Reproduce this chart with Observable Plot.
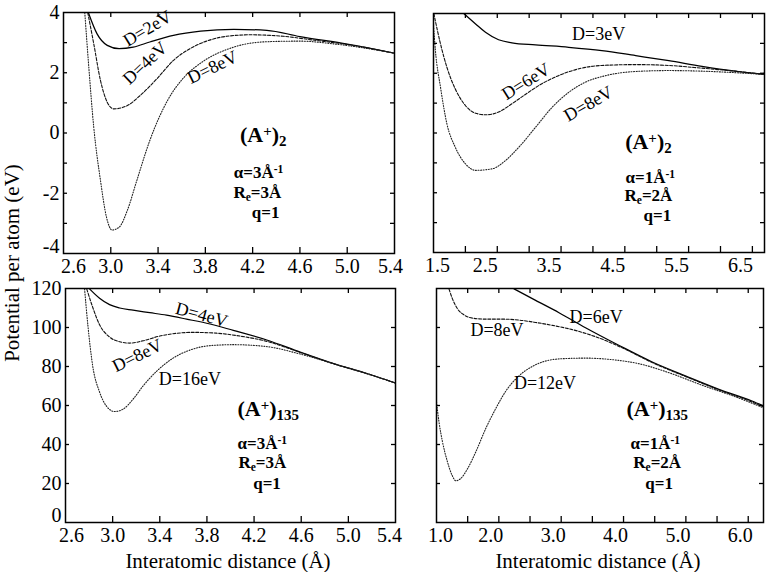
<!DOCTYPE html>
<html>
<head>
<meta charset="utf-8">
<script src="https://cdn.jsdelivr.net/npm/d3@7"></script>
<script src="https://cdn.jsdelivr.net/npm/@observablehq/plot@0.6"></script>
<style>
  html, body { margin: 0; padding: 0; background: #fff; }
  #root { position: relative; width: 772px; height: 572px; background: #fff;
          font-family: 'Liberation Serif', 'Times New Roman', serif; color: #000; }
  .panel { position: absolute; }
  .ylab { position: absolute; left: 12px; top: 263px; transform: translate(-50%, -50%) rotate(-90deg);
          white-space: nowrap; font-size: 21px; line-height: 1; }
  .xlab { position: absolute; top: 561px; transform: translate(-50%, -50%); white-space: nowrap;
          font-size: 21px; line-height: 1; }
</style>
</head>
<body>
<div id="root">
  <div id="tl" class="panel" style="left:0;top:0"></div>
  <div id="tr" class="panel" style="left:400px;top:0"></div>
  <div id="bl" class="panel" style="left:0;top:282px"></div>
  <div id="br" class="panel" style="left:400px;top:282px"></div>
  <div class="ylab">Potential per atom (eV)</div>
  <div class="xlab" style="left:228px">Interatomic distance (Å)</div>
  <div class="xlab" style="left:598px">Interatomic distance (Å)</div>
</div>
<script>
// ---------------- DATA ----------------
// Top-left: (A+)2, alpha = 3/Å, Re = 3 Å  — [distance Å, potential eV]
const tlD2 = [[2.81,4.0],[2.884,3.29],[2.97,2.91],[3.07,2.80],[3.19,2.85],[3.33,3.02],[3.53,3.24],[3.76,3.38],[4.04,3.44],[4.32,3.41],[4.6,3.20],[5.0,2.95],[5.4,2.65]];
const tlD4 = [[2.805,4.0],[2.856,2.96],[2.913,1.74],[2.97,1.02],[3.025,0.80],[3.14,0.91],[3.25,1.25],[3.39,1.80],[3.53,2.41],[3.67,2.80],[3.81,3.05],[3.98,3.21],[4.18,3.26],[4.46,3.21],[4.74,3.07],[5.0,2.94],[5.4,2.65]];
const tlD8 = [[2.78,4.0],[2.814,2.19],[2.856,0.19],[2.913,-1.58],[2.964,-2.80],[3.01,-3.22],[3.07,-3.13],[3.14,-2.57],[3.22,-1.58],[3.33,-0.25],[3.48,1.08],[3.62,1.85],[3.76,2.32],[4.04,2.85],[4.32,3.03],[4.6,3.05],[4.88,2.96],[5.4,2.65]];

// Top-right: (A+)2, alpha = 1/Å, Re = 2 Å
const trD3 = [[1.975,4.0],[2.16,3.65],[2.315,3.37],[2.52,3.12],[2.73,3.02],[3.10,2.95],[3.62,2.87],[4.14,2.76],[4.67,2.59],[5.19,2.42],[5.71,2.23],[6.23,2.07],[6.69,1.96]];
const trD6 = [[1.505,4.0],[1.61,2.98],[1.71,2.20],[1.84,1.48],[2.0,0.92],[2.16,0.66],[2.315,0.61],[2.52,0.70],[2.73,0.98],[2.94,1.29],[3.20,1.65],[3.46,1.92],[3.78,2.15],[4.14,2.26],[4.67,2.29],[5.19,2.26],[5.71,2.17],[6.23,2.07],[6.69,1.96]];
const trD8 = [[1.5,3.6],[1.53,2.76],[1.61,1.53],[1.71,0.31],[1.84,-0.47],[2.0,-1.03],[2.16,-1.25],[2.42,-1.20],[2.63,-0.92],[2.84,-0.47],[3.10,0.19],[3.36,0.86],[3.62,1.36],[3.88,1.70],[4.2,1.92],[4.67,2.06],[5.19,2.09],[5.71,2.07],[6.23,2.02],[6.69,1.96]];

// Bottom-left: (A+)135, alpha = 3/Å, Re = 3 Å
const blD4 = [[2.804,119.8],[2.889,115.0],[2.974,111.7],[3.06,110.0],[3.173,108.9],[3.315,107.6],[3.457,106.3],[3.627,104.3],[3.826,101.8],[4.024,98.5],[4.308,93.6],[4.591,87.4],[4.875,81.5],[5.159,76.4],[5.4,71.5]];
const blD8 = [[2.78,119.8],[2.83,110.5],[2.889,101.4],[2.974,95.1],[3.06,92.7],[3.145,92.0],[3.258,93.2],[3.40,95.6],[3.54,97.0],[3.683,97.5],[3.88,97.1],[4.08,95.6],[4.308,92.9],[4.591,87.2],[4.875,81.4],[5.159,76.3],[5.4,71.5]];
const blD16 = [[2.762,119.8],[2.79,101.1],[2.83,80.6],[2.889,66.9],[2.946,59.8],[3.017,56.9],[3.088,58.1],[3.173,63.2],[3.258,70.0],[3.372,77.5],[3.513,84.3],[3.655,88.4],[3.826,90.7],[4.024,91.2],[4.308,90.2],[4.591,86.4],[4.875,81.4],[5.159,76.3],[5.4,71.5]];

// Bottom-right: (A+)135, alpha = 1/Å, Re = 2 Å
const brD6 = [[2.244,119.8],[2.59,113.9],[2.965,107.6],[3.39,99.9],[3.93,90.8],[4.46,82.3],[5.0,75.1],[5.53,68.3],[6.06,62.3],[6.245,59.8]];
const brD8 = [[1.20,119.8],[1.256,114.7],[1.336,109.6],[1.44,106.5],[1.577,104.8],[1.79,104.3],[2.06,104.3],[2.32,103.8],[2.59,102.6],[2.86,101.1],[3.18,98.9],[3.61,94.6],[4.03,88.8],[4.46,82.0],[5.0,74.8],[5.53,68.0],[6.06,61.8],[6.245,59.3]];
const brD12 = [[1.0,61.8],[1.04,51.6],[1.096,41.4],[1.176,31.1],[1.256,23.8],[1.31,21.4],[1.39,22.6],[1.50,27.7],[1.63,36.2],[1.79,48.2],[1.95,58.4],[2.11,67.3],[2.32,75.1],[2.54,80.1],[2.75,82.8],[3.02,84.0],[3.39,84.3],[3.82,83.5],[4.25,81.4],[4.73,76.8],[5.26,70.4],[5.80,64.4],[6.245,58.8]];

// Curve labels: text and anchor point (data units)
const tlCurveLabels = [{t:"D=2eV",x:3.31,y:3.47},{t:"D=4eV",x:3.29,y:2.32},{t:"D=8eV",x:3.86,y:2.18}];
const trCurveLabels = [{t:"D=3eV",x:4.09,y:3.32},{t:"D=6eV",x:2.95,y:1.72},{t:"D=8eV",x:3.93,y:0.98}];
const blCurveLabels = [{t:"D=4eV",x:3.755,y:106.5},{t:"D=8eV",x:3.21,y:85.6},{t:"D=16eV",x:3.655,y:73.3}];
const brCurveLabels = [{t:"D=6eV",x:3.56,y:105.3},{t:"D=8eV",x:1.97,y:98.5},{t:"D=12eV",x:2.74,y:71.2}];

// Parameter notes
const tlNotes = [{t:"(A^{+})_{2}",x:4.29,y:-0.08},{t:"α=3Å^{-1}",x:4.25,y:-1.30},{t:"R_{e}=3Å",x:4.24,y:-1.97},{t:"q=1",x:4.31,y:-2.63}];
const trNotes = [{t:"(A^{+})_{2}",x:4.87,y:-0.31},{t:"α=1Å^{-1}",x:4.90,y:-1.48},{t:"R_{e}=2Å",x:4.87,y:-2.09},{t:"q=1",x:5.01,y:-2.76}];
const blNotes = [{t:"(A^{+})_{135}",x:4.32,y:58.4},{t:"α=3Å^{-1}",x:4.27,y:40.5},{t:"R_{e}=3Å",x:4.27,y:30.6},{t:"q=1",x:4.31,y:20.1}];
const brNotes = [{t:"(A^{+})_{135}",x:4.54,y:58.4},{t:"α=1Å^{-1}",x:4.51,y:40.5},{t:"R_{e}=2Å",x:4.54,y:30.6},{t:"q=1",x:4.57,y:20.1}];

// Tick values
const tlXLabels = [2.6, 3.0, 3.4, 3.8, 4.2, 4.6, 5.0, 5.4];
const tlXMarks  = [3.0, 3.4, 3.8, 4.2, 4.6, 5.0];
const trXLabels = [1.5, 2.5, 3.5, 4.5, 5.5, 6.5];
const trXMarks  = [2.0, 2.5, 3.0, 3.5, 4.0, 4.5, 5.0, 5.5, 6.0, 6.5];
const blXLabels = [2.6, 3.0, 3.4, 3.8, 4.2, 4.6, 5.0, 5.4];
const blXMarks  = [3.0, 3.4, 3.8, 4.2, 4.6, 5.0];
const brXLabels = [1.0, 2.0, 3.0, 4.0, 5.0, 6.0];
const brXMarks  = [1.5, 2.0, 2.5, 3.0, 3.5, 4.0, 4.5, 5.0, 5.5, 6.0];
const topYLabels = [-4, -2, 0, 2, 4];
const topYMarks  = [-3, -2, -1, 0, 1, 2, 3];
const botYLabels = [0, 20, 40, 60, 80, 100, 120];
const botYMarks  = [20, 40, 60, 80, 100];

// ---------------- DRAWING ----------------
const FONT = "'Liberation Serif', 'Times New Roman', serif";
const styles = {
  solid:  {strokeWidth: 1.25, strokeDasharray: null, stroke: "#000"},
  dashed: {strokeWidth: 1.1, strokeDasharray: "3,1.6", stroke: "#111"},
  dotted: {strokeWidth: 1.1, strokeDasharray: "1,1.6", stroke: "#222"}
};
const fmt1 = d3.format(".1f");

function richify(svg) {
  svg.querySelectorAll("text").forEach(t => {
    const s = t.textContent;
    if (!/[\^_]\{/.test(s)) return;
    t.textContent = "";
    const re = /([\^_])\{([^}]*)\}|([^\^_]+)/g;
    let m;
    while ((m = re.exec(s))) {
      const ts = document.createElementNS("http://www.w3.org/2000/svg", "tspan");
      if (m[3] !== undefined) {
        ts.textContent = m[3];
      } else {
        ts.textContent = m[2];
        ts.setAttribute("font-size", "68%");
        ts.setAttribute("baseline-shift", m[1] === "^" ? "38%" : "-28%");
      }
      t.appendChild(ts);
    }
  });
}

function panel(c) {
  const iw = c.width - c.ml - c.mr, ih = c.height - c.mt - c.mb;
  const marks = [];
  c.series.forEach(([pts, st]) => marks.push(
    Plot.line(pts, {x: d => d[0], y: d => d[1], curve: "monotone-x", clip: true, ...styles[st]})
  ));
  marks.push(Plot.ruleX(c.xMarks, {x: d => d, insetTop: ih - 6, strokeWidth: 1.3}));
  marks.push(Plot.ruleX(c.xMarks, {x: d => d, insetBottom: ih - 5, strokeWidth: 1.3}));
  marks.push(Plot.ruleY(c.yMarks, {y: d => d, insetLeft: iw - 4, strokeWidth: 1.3}));
  marks.push(Plot.ruleY(c.yMarks, {y: d => d, insetRight: iw - 4, strokeWidth: 1.3}));
  marks.push(Plot.frame({stroke: "#000", strokeWidth: 1.5}));
  const xl = c.xLabels;
  const groups = [[[xl[0]], c.dxFirst], [xl.slice(1, -1), c.dxMid], [[xl[xl.length - 1]], c.dxLast]];
  groups.forEach(([ticks, dx]) => marks.push(Plot.axisX(ticks, {
    anchor: "bottom", tickSize: 0, tickPadding: c.xPad, dx, fontSize: 20, tickFormat: fmt1, label: null
  })));
  if (c.yLabels) {
    const yl = c.yLabels;
    marks.push(Plot.axisY([yl[0]], {
      anchor: "left", tickSize: 0, tickPadding: 4, dy: -7, fontSize: 20, tickFormat: d => String(d), label: null
    }));
    marks.push(Plot.axisY(yl.slice(1), {
      anchor: "left", tickSize: 0, tickPadding: 4, fontSize: 20, tickFormat: d => String(d), label: null
    }));
  }
  marks.push(Plot.text(c.curveLabels, {
    x: "x", y: "y", text: "t", rotate: (d, i) => c.rot[i], fontSize: 18,
    textAnchor: "middle", lineAnchor: "middle", fill: "#000"
  }));
  marks.push(Plot.text(c.notes, {
    x: "x", y: "y", text: "t", fontSize: (d, i) => i === 0 ? 22 : 17, fontWeight: "bold",
    textAnchor: "middle", lineAnchor: "middle", fill: "#000"
  }));
  const svg = Plot.plot({
    width: c.width, height: c.height,
    marginTop: c.mt, marginRight: c.mr, marginBottom: c.mb, marginLeft: c.ml,
    x: {domain: c.xDomain},
    y: c.yLabels ? {domain: c.yDomain} : {domain: c.yDomain, axis: null},
    style: {fontFamily: FONT, background: "transparent", color: "#000", overflow: "visible"},
    marks
  });
  richify(svg);
  return svg;
}

document.getElementById("tl").appendChild(panel({
  width: 400, height: 282, mt: 12, mr: 6, mb: 29, ml: 63,
  xDomain: [2.6, 5.4], yDomain: [-4, 4],
  series: [[tlD2, "solid"], [tlD4, "dashed"], [tlD8, "dotted"]],
  xLabels: tlXLabels, xMarks: tlXMarks, yLabels: topYLabels, yMarks: topYMarks,
  dxFirst: 10, dxMid: 0, dxLast: -4, xPad: 5,
  curveLabels: tlCurveLabels, rot: [-31, -43, -26], notes: tlNotes
}));
document.getElementById("tr").appendChild(panel({
  width: 372, height: 282, mt: 13, mr: 8, mb: 30, ml: 33,
  xDomain: [1.5, 6.69], yDomain: [-4, 4],
  series: [[trD3, "solid"], [trD6, "dashed"], [trD8, "dotted"]],
  xLabels: trXLabels, xMarks: trXMarks, yLabels: null, yMarks: topYMarks,
  dxFirst: 4, dxMid: -12, dxLast: -12, xPad: 5,
  curveLabels: trCurveLabels, rot: [0, -32, -30], notes: trNotes
}));
document.getElementById("bl").appendChild(panel({
  width: 400, height: 290, mt: 6, mr: 5, mb: 50, ml: 65,
  xDomain: [2.6, 5.4], yDomain: [0, 120],
  series: [[blD4, "solid"], [blD8, "dashed"], [blD16, "dotted"]],
  xLabels: blXLabels, xMarks: blXMarks, yLabels: botYLabels, yMarks: botYMarks,
  dxFirst: 6, dxMid: 0, dxLast: -6, xPad: 5,
  curveLabels: blCurveLabels, rot: [15, -26, 0], notes: blNotes
}));
document.getElementById("br").appendChild(panel({
  width: 372, height: 290, mt: 6, mr: 9, mb: 50, ml: 36,
  xDomain: [1.0, 6.245], yDomain: [0, 120],
  series: [[brD6, "solid"], [brD8, "dashed"], [brD12, "dotted"]],
  xLabels: brXLabels, xMarks: brXMarks, yLabels: null, yMarks: botYMarks,
  dxFirst: 4, dxMid: -8, dxLast: -8, xPad: 5,
  curveLabels: brCurveLabels, rot: [0, 0, 0], notes: brNotes
}));
</script>
</body>
</html>
